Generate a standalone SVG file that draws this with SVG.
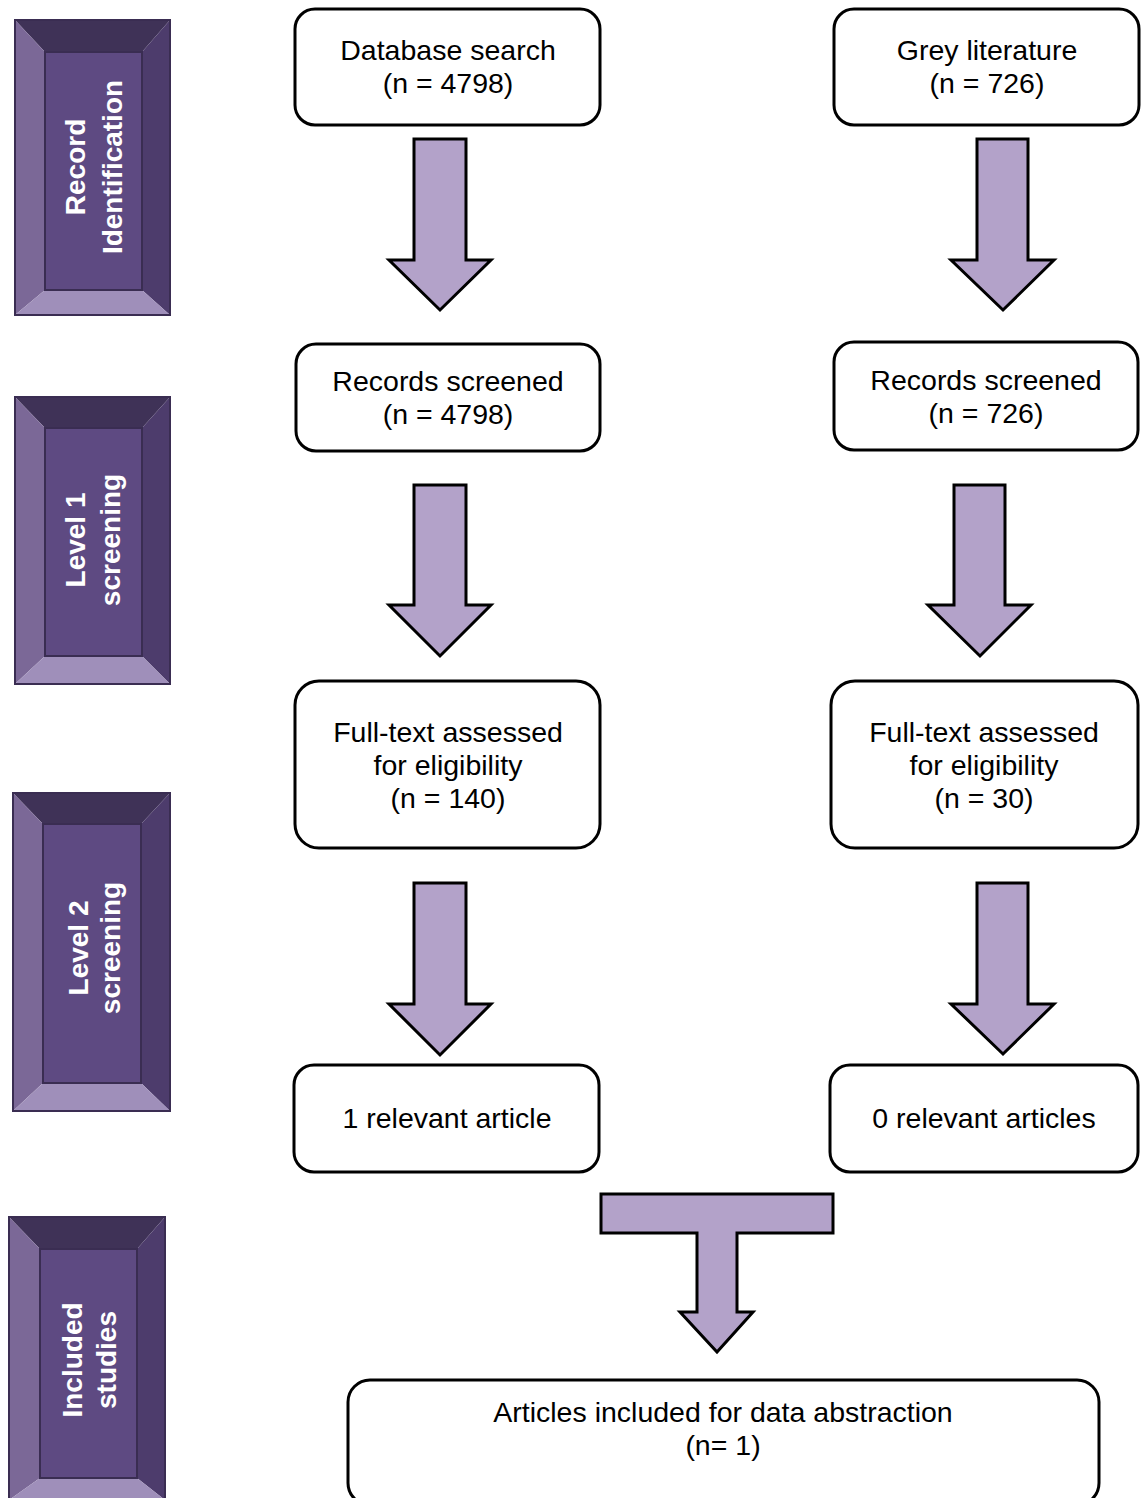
<svg xmlns="http://www.w3.org/2000/svg" width="1145" height="1498" viewBox="0 0 1145 1498">
<style>
.box{fill:#fff;stroke:#000;stroke-width:3}
.t{font-family:"Liberation Sans",Arial,sans-serif;font-size:28.5px;fill:#000;text-anchor:middle}
.s{font-family:"Liberation Sans",Arial,sans-serif;font-size:28px;font-weight:bold;fill:#fff;text-anchor:middle}
.arr{fill:#b3a2c9;stroke:#000;stroke-width:3;stroke-linejoin:miter}
.bt{fill:#3f3257}.bl{fill:#7b6897}.br{fill:#4d3c6c}.bb{fill:#9f8fba}.bf{fill:#5e4a82;stroke:#3a2d52;stroke-width:2}
.bo{fill:none;stroke:#3a2d52;stroke-width:2}
</style>
<rect width="1145" height="1498" fill="#fff"/>
<g id="stage1">
<polygon class="bt" points="15,20 170,20 142,52 45,52"/>
<polygon class="bl" points="15,20 45,52 45,290 15,315"/>
<polygon class="br" points="170,20 170,315 142,290 142,52"/>
<polygon class="bb" points="15,315 45,290 142,290 170,315"/>
<rect class="bf" x="45" y="52" width="97" height="238"/>
<rect class="bo" x="15" y="20" width="155" height="295"/>
<text class="s" transform="translate(85,167) rotate(-90)">Record</text>
<text class="s" transform="translate(122,167) rotate(-90)">Identification</text>
</g>
<g id="stage2">
<polygon class="bt" points="15,397 170,397 142,428 45,428"/>
<polygon class="bl" points="15,397 45,428 45,656 15,684"/>
<polygon class="br" points="170,397 170,684 142,656 142,428"/>
<polygon class="bb" points="15,684 45,656 142,656 170,684"/>
<rect class="bf" x="45" y="428" width="97" height="228"/>
<rect class="bo" x="15" y="397" width="155" height="287"/>
<text class="s" transform="translate(85,540) rotate(-90)">Level 1</text>
<text class="s" transform="translate(120,540) rotate(-90)">screening</text>
</g>
<g id="stage3">
<polygon class="bt" points="13,793 170,793 141,824 43,824"/>
<polygon class="bl" points="13,793 43,824 43,1083 13,1111"/>
<polygon class="br" points="170,793 170,1111 141,1083 141,824"/>
<polygon class="bb" points="13,1111 43,1083 141,1083 170,1111"/>
<rect class="bf" x="43" y="824" width="98" height="259"/>
<rect class="bo" x="13" y="793" width="157" height="318"/>
<text class="s" transform="translate(88,948) rotate(-90)">Level 2</text>
<text class="s" transform="translate(120,948) rotate(-90)">screening</text>
</g>
<g id="stage4">
<polygon class="bt" points="9,1217 165,1217 137,1249 40,1249"/>
<polygon class="bl" points="9,1217 40,1249 40,1478 9,1500"/>
<polygon class="br" points="165,1217 165,1500 137,1478 137,1249"/>
<polygon class="bb" points="9,1500 40,1478 137,1478 165,1500"/>
<rect class="bf" x="40" y="1249" width="97" height="229"/>
<rect class="bo" x="9" y="1217" width="156" height="290"/>
<text class="s" transform="translate(82,1360) rotate(-90)">Included</text>
<text class="s" transform="translate(116,1360) rotate(-90)">studies</text>
</g>
<g id="db">
<rect class="box" x="295" y="9" width="305" height="116" rx="20"/>
<text class="t" x="448" y="60">Database search</text>
<text class="t" x="448" y="93">(n = 4798)</text>
</g>
<g id="grey">
<rect class="box" x="834" y="9" width="305" height="116" rx="20"/>
<text class="t" x="987" y="60">Grey literature</text>
<text class="t" x="987" y="93">(n = 726)</text>
</g>
<g id="screenL">
<rect class="box" x="296" y="344" width="304" height="107" rx="20"/>
<text class="t" x="448" y="391">Records screened</text>
<text class="t" x="448" y="424">(n = 4798)</text>
</g>
<g id="screenR">
<rect class="box" x="834" y="342" width="304" height="108" rx="20"/>
<text class="t" x="986" y="390">Records screened</text>
<text class="t" x="986" y="423">(n = 726)</text>
</g>
<g id="fullL">
<rect class="box" x="295" y="681" width="305" height="167" rx="24"/>
<text class="t" x="448" y="742">Full-text assessed</text>
<text class="t" x="448" y="775">for eligibility</text>
<text class="t" x="448" y="808">(n = 140)</text>
</g>
<g id="fullR">
<rect class="box" x="831" y="681" width="307" height="167" rx="24"/>
<text class="t" x="984" y="742">Full-text assessed</text>
<text class="t" x="984" y="775">for eligibility</text>
<text class="t" x="984" y="808">(n = 30)</text>
</g>
<g id="relL">
<rect class="box" x="294" y="1065" width="305" height="107" rx="20"/>
<text class="t" x="447" y="1128">1 relevant article</text>
</g>
<g id="relR">
<rect class="box" x="830" y="1065" width="308" height="107" rx="20"/>
<text class="t" x="984" y="1128">0 relevant articles</text>
</g>
<g id="included">
<rect class="box" x="348" y="1380" width="751" height="125" rx="22"/>
<text class="t" x="723" y="1422">Articles included for data abstraction</text>
<text class="t" x="723" y="1455">(n= 1)</text>
</g>
<g id="connectors">
<polygon class="arr" points="414,139 466,139 466,260 491,260 440,310 389,260 414,260"/>
<polygon class="arr" points="977,139 1028,139 1028,260 1054,260 1003,310 951,260 977,260"/>
<polygon class="arr" points="414,485 466,485 466,605 491,605 440,656 389,605 414,605"/>
<polygon class="arr" points="954,485 1005,485 1005,605 1031,605 980,656 928,605 954,605"/>
<polygon class="arr" points="414,883 466,883 466,1004 491,1004 440,1055 389,1004 414,1004"/>
<polygon class="arr" points="977,883 1028,883 1028,1004 1054,1004 1003,1054 951,1004 977,1004"/>
<polygon class="arr" points="601,1194 833,1194 833,1233 737,1233 737,1312 753,1312 717,1352 680,1312 697,1312 697,1233 601,1233"/>
</g>
</svg>
